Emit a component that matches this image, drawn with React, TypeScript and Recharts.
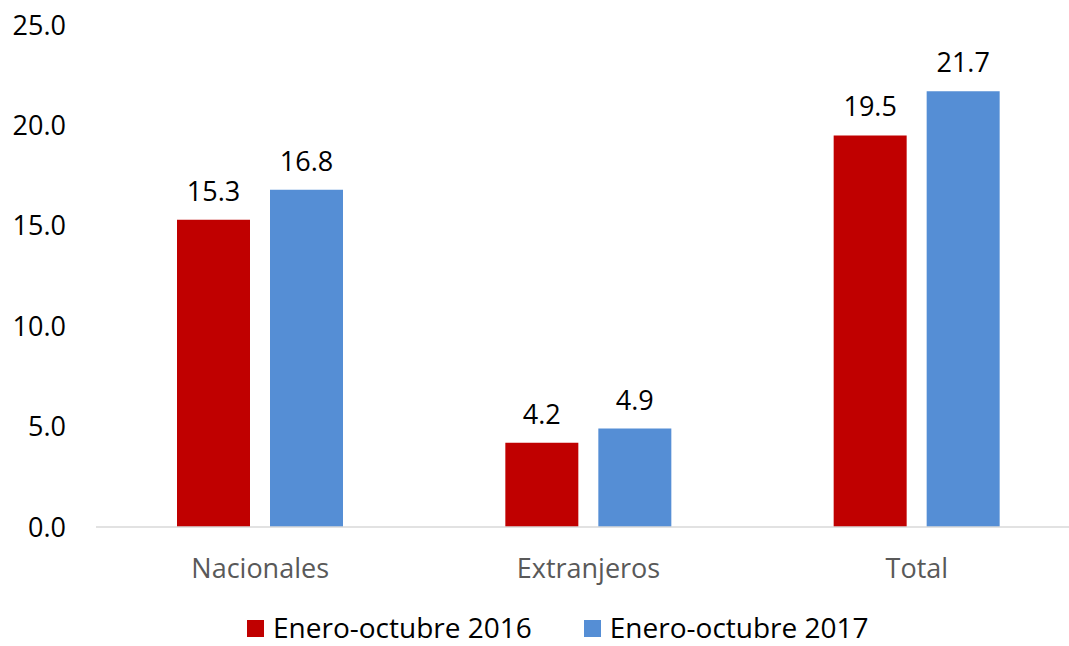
import React from 'react';
import { BarChart, Bar, XAxis, YAxis, Legend, LabelList } from 'recharts';

const categories = ['Nacionales', 'Extranjeros', 'Total'];
const values2016 = [15.3, 4.2, 19.5];
const values2017 = [16.8, 4.9, 21.7];
const seriesNames = ['Enero-octubre 2016', 'Enero-octubre 2017'];
const seriesColors = ['#C00000', '#558ED5'];
const yTicks = [0, 5, 10, 15, 20, 25];

const data = categories.map((c, i) => ({ name: c, a: values2016[i], b: values2017[i] }));

const FONT = '"Open Sans", sans-serif';

const LegendContent = () => (
  <div style={{ display: 'flex', alignItems: 'center', height: 28, fontFamily: FONT, fontSize: 28, color: '#000', whiteSpace: 'nowrap' }}>
    {seriesNames.map((n, i) => (
      <div key={n} style={{ display: 'flex', alignItems: 'center', marginRight: i === 0 ? 52 : 0 }}>
        <span style={{ display: 'inline-block', width: 17, height: 17, background: seriesColors[i], marginRight: 9, marginTop: 2 }} />
        <span style={{ lineHeight: 1, display: 'inline-block' }}>{n}</span>
      </div>
    ))}
  </div>
);

const fmt = (v: any) => Number(v).toFixed(1);

export default function App() {
  return (
    <div style={{ position: 'absolute', left: 0, top: 0, width: 1069, height: 646, overflow: 'hidden', background: '#fff' }}>
      <BarChart
        width={1081}
        height={646}
        data={data}
        margin={{ top: 25, right: 0, bottom: 0, left: 0 }}
        barSize={73}
        barGap={20}
      >
        <XAxis
          dataKey="name"
          tickLine={false}
          tickSize={0}
          tickMargin={32}
          height={91}
          axisLine={{ stroke: '#D9D9D9', strokeWidth: 1.5 }}
          tick={{ fill: '#595959', fontSize: 27, fontFamily: FONT }}
        />
        <YAxis
          domain={[0, 25]}
          ticks={yTicks}
          width={96}
          axisLine={false}
          tickLine={false}
          tickSize={0}
          tickMargin={30}
          tickFormatter={fmt}
          tick={{ fill: '#000', fontSize: 27, fontFamily: FONT }}
        />
        <Legend
          verticalAlign="bottom"
          content={<LegendContent />}
          wrapperStyle={{ left: 247, bottom: 5, width: 'auto' }}
        />
        <Bar dataKey="a" name={seriesNames[0]} fill={seriesColors[0]} isAnimationActive={false}>
          <LabelList dataKey="a" position="top" offset={19} formatter={fmt} style={{ fill: '#000', fontSize: 27, fontFamily: FONT }} />
        </Bar>
        <Bar dataKey="b" name={seriesNames[1]} fill={seriesColors[1]} isAnimationActive={false}>
          <LabelList dataKey="b" position="top" offset={19} formatter={fmt} style={{ fill: '#000', fontSize: 27, fontFamily: FONT }} />
        </Bar>
      </BarChart>
    </div>
  );
}
